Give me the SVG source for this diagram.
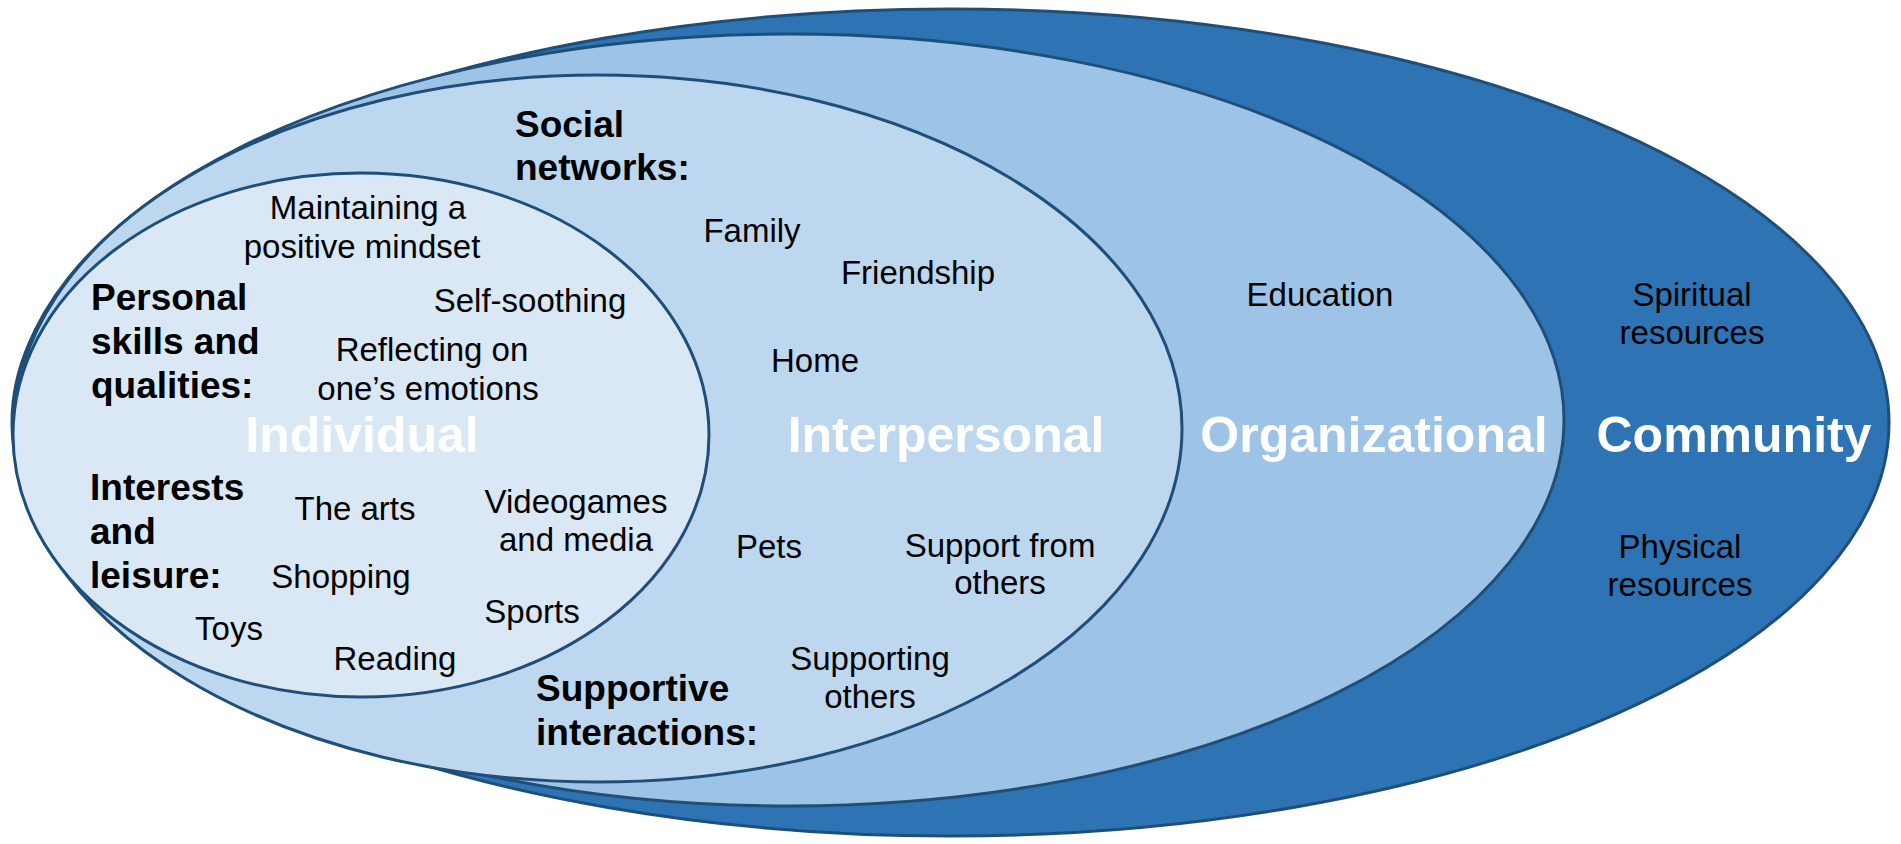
<svg xmlns="http://www.w3.org/2000/svg" width="1901" height="844" viewBox="0 0 1901 844">
<style>
.ring{stroke:#1F4E79;stroke-width:3}
.t{font-family:"Liberation Sans",Arial,sans-serif;font-size:33px;fill:#000}
.c{text-anchor:middle}
.b{font-family:"Liberation Sans",Arial,sans-serif;font-size:37px;font-weight:bold;fill:#000}
.big{font-family:"Liberation Sans",Arial,sans-serif;font-size:50px;font-weight:bold;fill:#fff;text-anchor:middle}
</style>
<rect width="1901" height="844" fill="#fff"/>
<g id="community">
<ellipse class="ring" cx="950.5" cy="422.5" rx="938.5" ry="413.5" fill="#2E74B5"/>
</g>
<g id="organizational">
<ellipse class="ring" cx="789" cy="420" rx="775" ry="386" fill="#9DC3E6"/>
</g>
<g id="interpersonal">
<ellipse class="ring" cx="598" cy="428.5" rx="584" ry="353.5" fill="#BDD7EE"/>
</g>
<g id="individual">
<ellipse class="ring" cx="361" cy="435" rx="348" ry="262" fill="#DAE8F5"/>
</g>
<g id="labels">
<text class="big" x="362" y="452">Individual</text>
<text class="big" x="946" y="452">Interpersonal</text>
<text class="big" x="1374" y="452">Organizational</text>
<text class="big" x="1734" y="452">Community</text>
</g>
<g id="individual-text">
<text class="b" x="91" y="310">Personal</text>
<text class="b" x="91" y="354">skills and</text>
<text class="b" x="91" y="398">qualities:</text>
<text class="t c" x="368" y="219">Maintaining a</text>
<text class="t c" x="362" y="258">positive mindset</text>
<text class="t c" x="530" y="312">Self-soothing</text>
<text class="t c" x="432" y="361">Reflecting on</text>
<text class="t c" x="428" y="400">one’s emotions</text>
<text class="b" x="90" y="500">Interests</text>
<text class="b" x="90" y="544">and</text>
<text class="b" x="90" y="588">leisure:</text>
<text class="t c" x="355" y="520">The arts</text>
<text class="t c" x="576" y="513">Videogames</text>
<text class="t c" x="576" y="551">and media</text>
<text class="t c" x="341" y="588">Shopping</text>
<text class="t c" x="532" y="623">Sports</text>
<text class="t c" x="229" y="640">Toys</text>
<text class="t c" x="395" y="670">Reading</text>
</g>
<g id="interpersonal-text">
<text class="b" x="515" y="137">Social</text>
<text class="b" x="515" y="180">networks:</text>
<text class="t c" x="752" y="242">Family</text>
<text class="t c" x="918" y="284">Friendship</text>
<text class="t c" x="815" y="372">Home</text>
<text class="t c" x="769" y="558">Pets</text>
<text class="t c" x="1000" y="557">Support from</text>
<text class="t c" x="1000" y="594">others</text>
<text class="t c" x="870" y="670">Supporting</text>
<text class="t c" x="870" y="708">others</text>
<text class="b" x="536" y="701">Supportive</text>
<text class="b" x="536" y="745">interactions:</text>
</g>
<g id="organizational-text">
<text class="t c" x="1320" y="306">Education</text>
</g>
<g id="community-text">
<text class="t c" x="1692" y="306">Spiritual</text>
<text class="t c" x="1692" y="344">resources</text>
<text class="t c" x="1680" y="558">Physical</text>
<text class="t c" x="1680" y="596">resources</text>
</g>
<g id="connectors"/>
</svg>
